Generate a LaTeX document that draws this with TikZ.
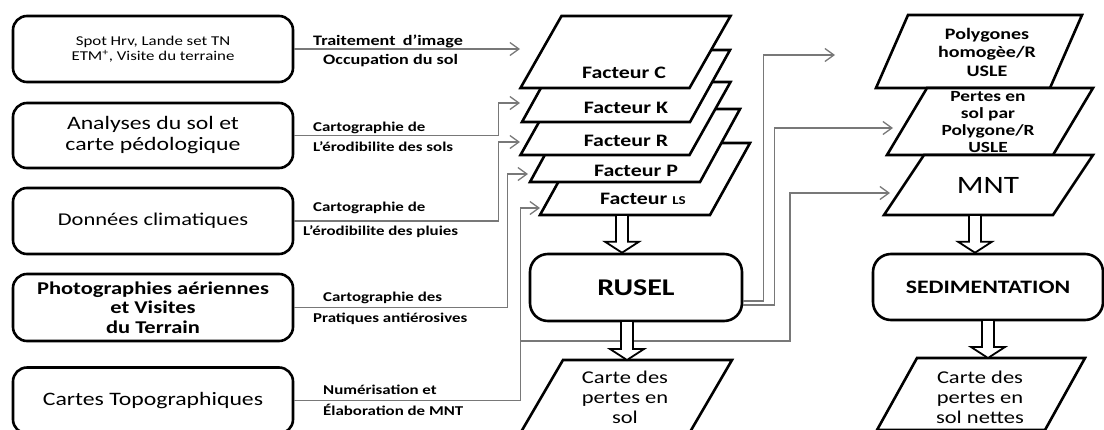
\documentclass[tikz,border=0pt]{standalone}
\usepackage{fontspec}
\setmainfont{Carlito}[FakeStretch=1.25]
\usepackage{tikz}
\usetikzlibrary{calc, positioning, arrows.meta}
\definecolor{wireGray}{RGB}{120,120,120}
\newcommand{\fsz}[2]{\fontsize{#1}{#2}\selectfont}
% slanted map layer: name, centre x, centre y, edge length, slant, height
\newcommand{\layer}[6]{%
  \draw[layerline] ({#2-(#4+#5)/2},{#3+#6/2}) -- ++(#4,0) -- ++(#5,-#6) -- ++(-#4,0) -- cycle;
  \coordinate (#1) at (#2,#3);
  \coordinate (#1-n) at (#2,{#3-#6/2});}
% hollow block arrow between two points on one vertical
\newcommand{\hollowarrow}[2]{%
  \draw[line width=1.8pt, fill=white]
    ($(#1)+(-6,0)$) -- ($(#2)+(-6,-11)$) -- ($(#2)+(-17,-11)$) -- (#2)
    -- ($(#2)+(17,-11)$) -- ($(#2)+(6,-11)$) -- ($(#1)+(6,0)$) -- cycle;}

\begin{document}
\begin{tikzpicture}[x=1pt, y=-1pt, >={Straight Barb[length=9pt, width=13pt]},
  srcbox/.style={draw, line width=2.6pt, rounded corners=14pt, minimum width=280pt,
    minimum height=66pt, inner sep=0pt, align=center},
  procbox/.style={draw, line width=2.6pt, rounded corners=18pt, inner sep=0pt},
  layerline/.style={draw, fill=white, line width=2.6pt},
  fac/.style={font=\fsz{17.5}{18}\bfseries, inner sep=0pt},
  res/.style={font=\fsz{18}{20}, align=center, inner sep=0pt},
  wire/.style={draw=wireGray, line width=1.3pt},
  lbl/.style={font=\fsz{13.5}{15}\bfseries, inner sep=0pt, anchor=west}]
  \useasboundingbox (0,0) rectangle (1104,429);

  % data sources
  \node[srcbox, font=\fsz{13.5}{15}] (spot) at (153,49) {Spot Hrv, Lande set TN\\ETM\textsuperscript{+}, Visite du terraine};
  \node[srcbox, minimum height=65pt, font=\fsz{19}{21}] (sol) at (153,135.5) {Analyses du sol et\\carte pédologique};
  \node[srcbox, font=\fsz{18}{21}] (clim) at (153,221) {Données climatiques};
  \node[srcbox, minimum height=67pt, font=\fsz{18}{19.5}\bfseries] (photo) at (153,307.5) {Photographies aériennes\\et Visites\\du Terrain};
  \node[srcbox, font=\fsz{19}{21}] (topo) at (153,400.5) {Cartes Topographiques};

  % arrow ends
  \coordinate (inC) at (520,49);
  \coordinate (inK) at (520,103);
  \coordinate (inR) at (520,142);
  \coordinate (inP) at (528,174);
  \coordinate (inLS) at (540,208);
  \coordinate (split) at (520,341);
  \coordinate (inPoly) at (835,55);
  \coordinate (inPertes) at (893,128);
  \coordinate (inMNT) at (890,193);

  \draw[wire, ->] (spot.east) -- (inC);
  \draw[wire, ->] (sol.east) -- ++(204,0) |- (inK);
  \draw[wire, ->] (clim.east) -- ++(204,0) |- (inR);
  \draw[wire, ->] (photo.east) -- ++(213,0) |- (inP);
  \draw[wire, ->] (topo.east) -- ++(226,0) |- (inLS);
  \draw[wire, ->] (split) -- ++(270,0) |- (inMNT);

  \node[lbl, font=\fsz{14.5}{15}\bfseries] (l1a) at (313,41) {Traitement\enspace d’image};
  \node[lbl, font=\fsz{14.5}{15}\bfseries] (l1b) at (323,61) {Occupation du sol};
  \node[lbl] (l2a) at (313,128) {Cartographie de};
  \node[lbl] (l2b) at (313,147) {L’érodibilite des sols};
  \node[lbl] (l3a) at (313,208) {Cartographie de};
  \node[lbl] (l3b) at (303,232) {L’érodibilite des pluies};
  \node[lbl] (l4a) at (323,298) {Cartographie des};
  \node[lbl] (l4b) at (313,319) {Pratiques antiérosives};
  \node[lbl] (l5a) at (323,390) {Numérisation et};
  \node[lbl] (l5b) at (323,410) {Élaboration de MNT};

  % factor layers, bottom one first
  \layer{fLS}{645}{179}{170}{40}{72}
  \layer{fP}{635}{145.5}{170}{40}{73}
  \layer{fR}{625.5}{118.5}{169}{41}{73}
  \layer{fK}{626}{86}{168}{40}{72}
  \layer{fC}{625.5}{52}{169}{41}{72}
  \node[fac] (tC) at (624,73) {Facteur C};
  \node[fac] (tK) at (626,108) {Facteur K};
  \node[fac] (tR) at (626,141) {Facteur R};
  \node[fac] (tP) at (636,171) {Facteur P};
  \node[fac] (tLS) at (643,199) {Facteur {\fsz{12}{12}LS}};

  % models
  \node[procbox, minimum width=212pt, minimum height=67pt, font=\fsz{24}{24}\bfseries] (rusel) at (636,287.5) {RUSEL};
  \node[procbox, minimum width=230pt, minimum height=66pt, font=\fsz{19}{19}\bfseries] (sedim) at (988,287) {SEDIMENTATION};

  \draw[wire, ->] ([yshift=-13.5pt]rusel.east) -- ++(20,0) |- (inPoly);
  \draw[wire, ->] ([yshift=-17.5pt]rusel.east) -- ++(31,0) |- (inPertes);

  % right layers
  \layer{poly}{979}{51.5}{174}{32}{73}
  \layer{pertes}{990}{121.5}{166}{40}{67}
  \layer{mnt}{988.5}{185}{169}{40}{60}
  \node[font=\fsz{16}{18.5}\bfseries, align=center, inner sep=0pt] (tPoly) at (987,52) {Polygones\\homogèe/R\\USLE};
  \node[font=\fsz{15.5}{17}\bfseries, align=center, inner sep=0pt] (tPertes) at (988,122.5) {Pertes en\\sol par\\Polygone/R\\USLE};
  \node[font=\fsz{25}{25}, inner sep=0pt] (tMnt) at (988,185) {MNT};

  % results
  \layer{carte}{626.5}{396}{169}{42}{72}
  \layer{nettes}{981}{394}{168}{40}{72}
  \node[res] (tCarte) at (625,397) {Carte des\\pertes en\\sol};
  \node[res] (tNettes) at (980,397) {Carte des\\pertes en\\sol nettes};

  % block arrows
  \coordinate (h1) at (622,215);
  \coordinate (h2) at (627,321);
  \coordinate (h3) at (975,215);
  \coordinate (h4) at (988,320);
  \hollowarrow{h1}{h1 |- rusel.north}
  \hollowarrow{h2}{h2 |- carte-n}
  \hollowarrow{h3}{h3 |- sedim.north}
  \hollowarrow{h4}{h4 |- nettes-n}
\end{tikzpicture}
\end{document}
